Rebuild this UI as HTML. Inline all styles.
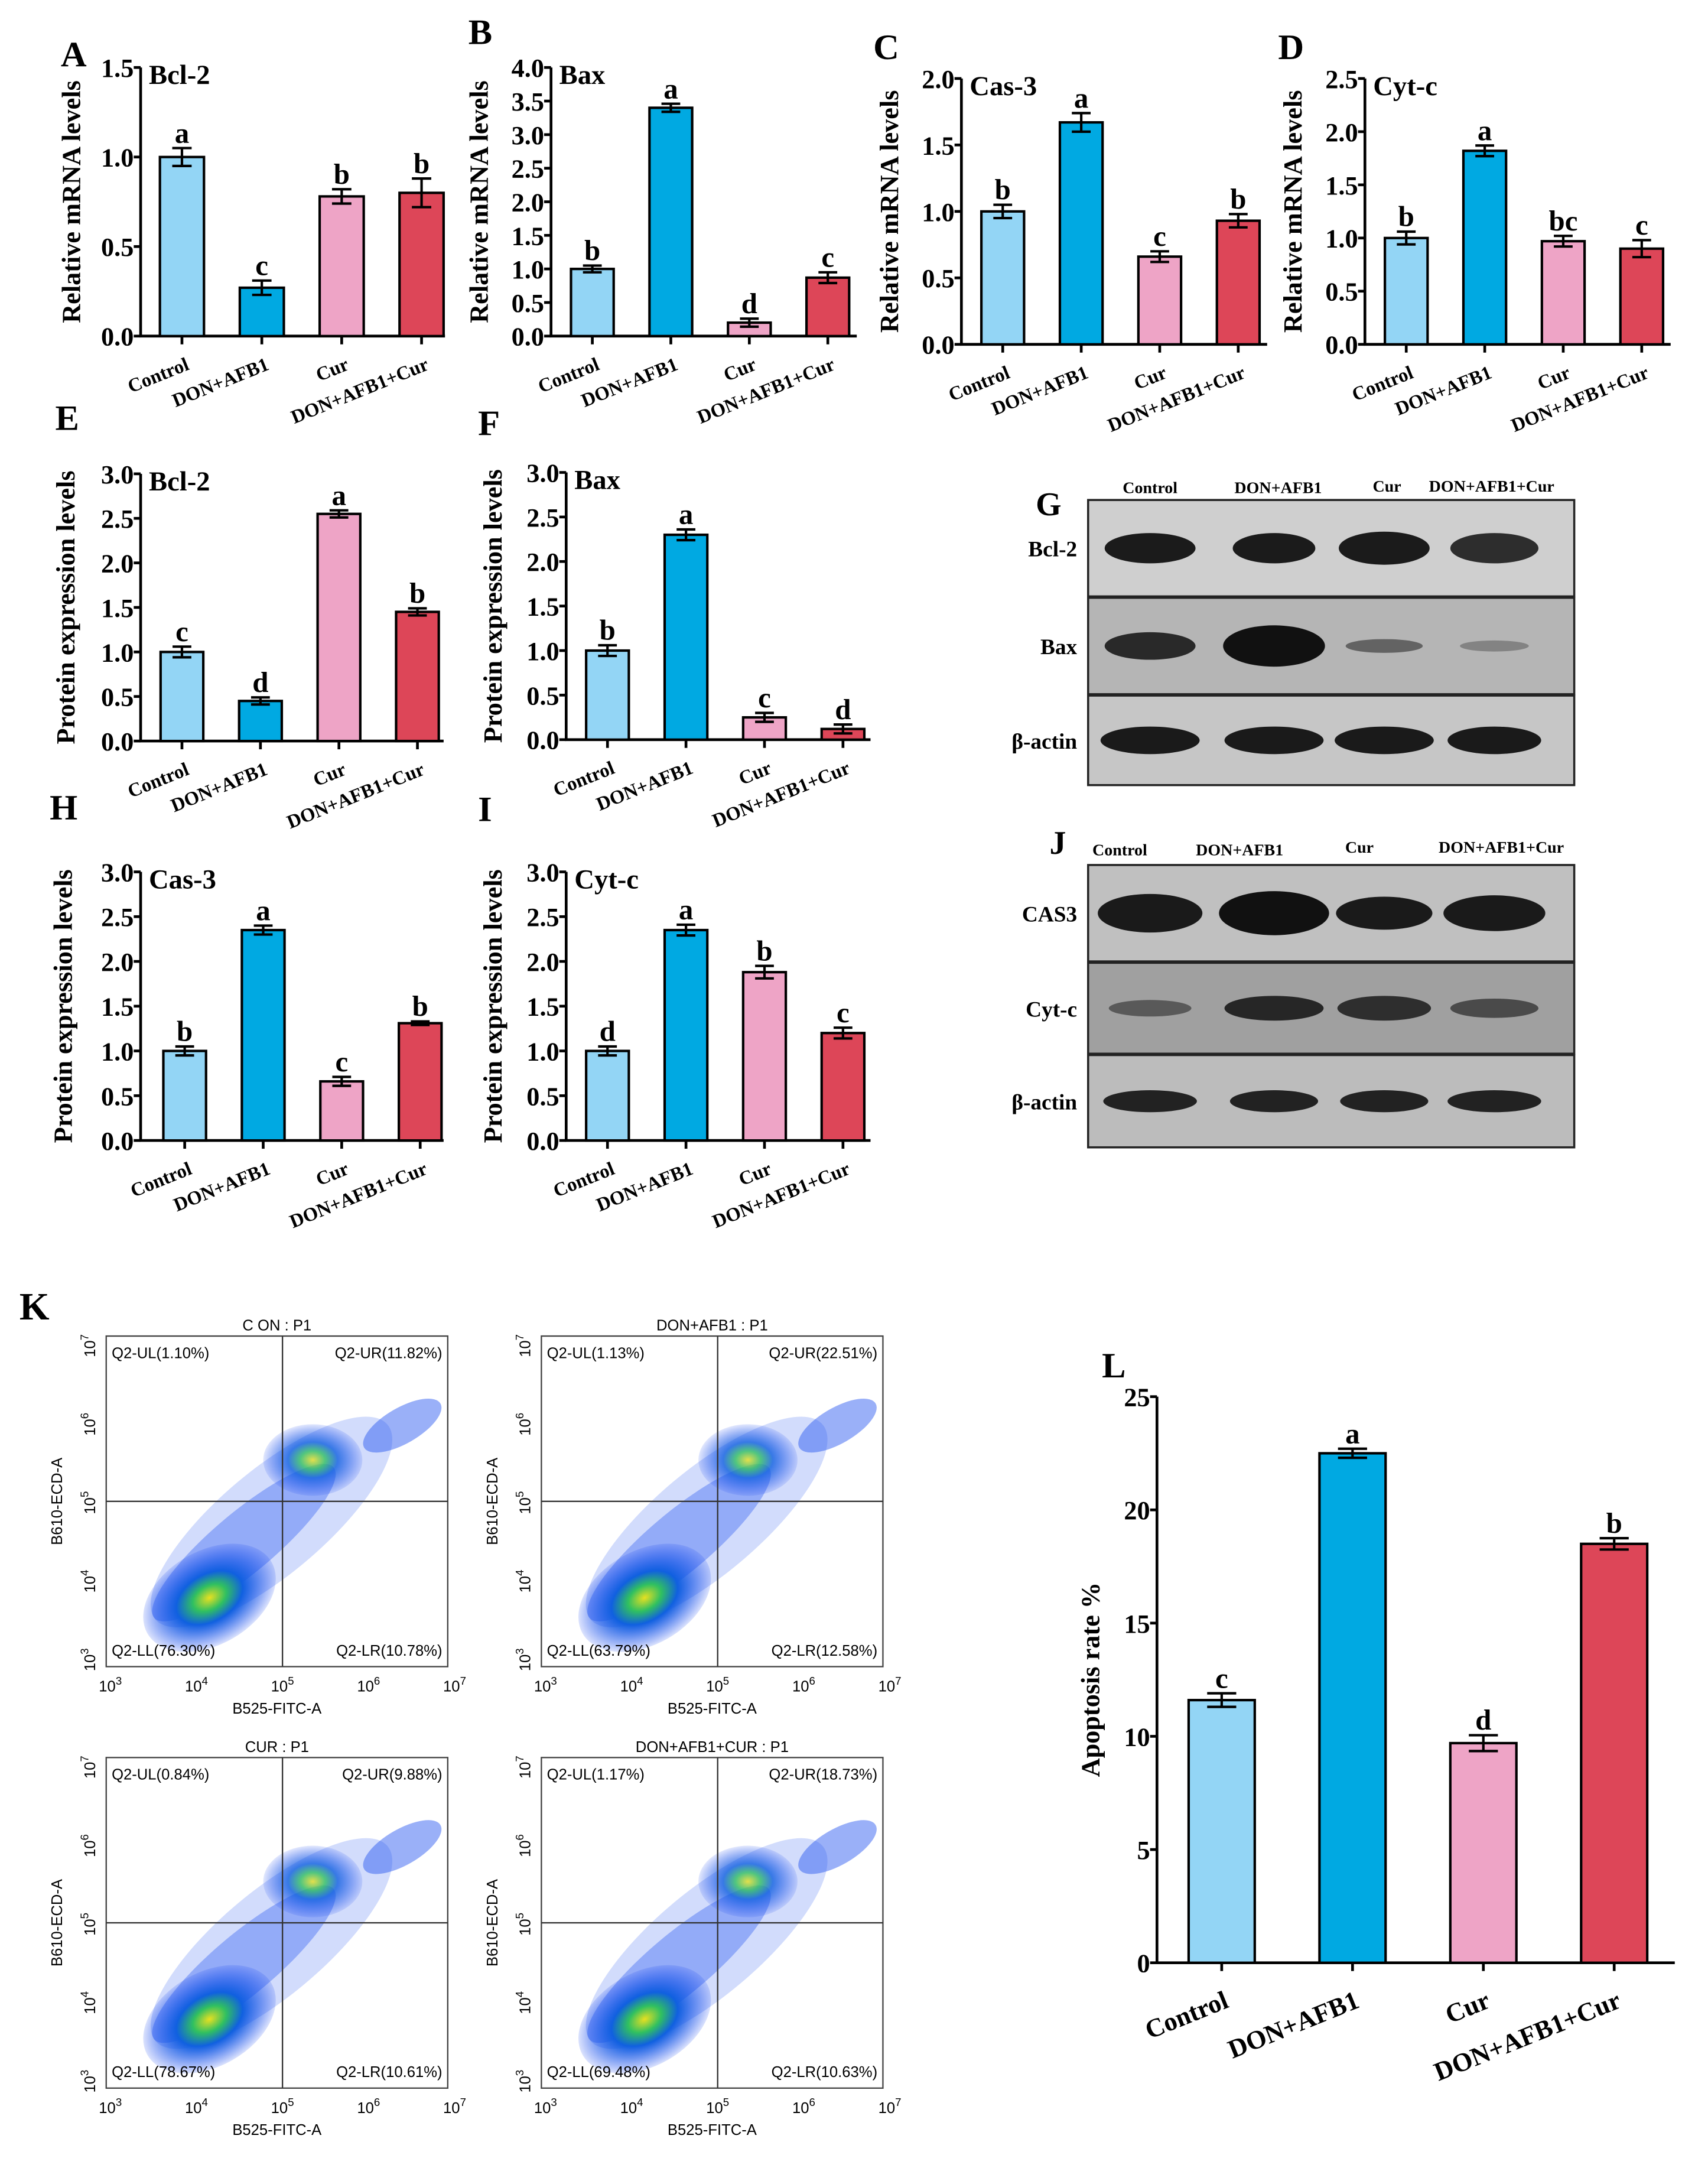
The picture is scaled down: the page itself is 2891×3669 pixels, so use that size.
<!DOCTYPE html>
<html><head><meta charset="utf-8"><style>
html,body{margin:0;padding:0;background:#fff}
svg{display:block}
text{font-family:"Liberation Serif",serif;font-weight:bold;fill:#000}
.sans{font-family:"Liberation Sans",sans-serif;font-weight:normal}
</style></head><body>
<svg id="fig" xmlns="http://www.w3.org/2000/svg" width="2891" height="3669" viewBox="0 0 1240 1574">
<rect width="1240" height="1574" fill="#fff"/>
<g id="charts"></g>
<g id="blots"></g>
<g id="flows"></g>
</svg>
<script>
const categories=["Control","DON+AFB1","Cur","DON+AFB1+Cur"];
const colors=["#93d5f5","#00a9e2","#eea4c6","#dd4658"];
const valsA=[1.0,0.27,0.78,0.80], errA=[0.05,0.04,0.04,0.08], letA=["a","c","b","b"], ticksA=[0,0.5,1.0,1.5];
const valsB=[1.0,3.40,0.20,0.87], errB=[0.05,0.06,0.06,0.08], letB=["b","a","d","c"], ticksB=[0,0.5,1,1.5,2,2.5,3,3.5,4];
const valsC=[1.0,1.67,0.66,0.93], errC=[0.05,0.07,0.04,0.05], letC=["b","a","c","b"], ticksC=[0,0.5,1.0,1.5,2.0];
const valsD=[1.0,1.82,0.97,0.90], errD=[0.06,0.05,0.05,0.08], letD=["b","a","bc","c"], ticksD=[0,0.5,1.0,1.5,2.0,2.5];
const valsE=[1.0,0.45,2.55,1.45], errE=[0.06,0.04,0.04,0.04], letE=["c","d","a","b"], ticksE=[0,0.5,1,1.5,2,2.5,3];
const valsF=[1.0,2.30,0.25,0.12], errF=[0.06,0.06,0.05,0.05], letF=["b","a","c","d"], ticksF=[0,0.5,1,1.5,2,2.5,3];
const valsH=[1.0,2.35,0.66,1.31], errH=[0.05,0.05,0.05,0.02], letH=["b","a","c","b"], ticksH=[0,0.5,1,1.5,2,2.5,3];
const valsI=[1.0,2.35,1.88,1.20], errI=[0.05,0.06,0.07,0.06], letI=["d","a","b","c"], ticksI=[0,0.5,1,1.5,2,2.5,3];
const valsL=[11.6,22.5,9.7,18.5], errL=[0.3,0.2,0.35,0.25], letL=["c","a","d","b"], ticksL=[0,5,10,15,20,25];
const flowTitles=["C ON : P1","DON+AFB1 : P1","CUR : P1","DON+AFB1+CUR : P1"];
const flowUL=["Q2-UL(1.10%)","Q2-UL(1.13%)","Q2-UL(0.84%)","Q2-UL(1.17%)"];
const flowUR=["Q2-UR(11.82%)","Q2-UR(22.51%)","Q2-UR(9.88%)","Q2-UR(18.73%)"];
const flowLL=["Q2-LL(76.30%)","Q2-LL(63.79%)","Q2-LL(78.67%)","Q2-LL(69.48%)"];
const flowLR=["Q2-LR(10.78%)","Q2-LR(12.58%)","Q2-LR(10.61%)","Q2-LR(10.63%)"];
const tickFmt=(t,dec)=>dec?t.toFixed(1):String(t);

const NS="http://www.w3.org/2000/svg";
function mk(tag,attrs,parent,txt){const e=document.createElementNS(NS,tag);for(const k in attrs)e.setAttribute(k,attrs[k]);if(txt!==undefined)e.textContent=txt;parent.appendChild(e);return e;}

function chart(p){
  const root=document.getElementById('charts');
  const g=mk('g',{},root);
  
  
  const max=p.ticks[p.ticks.length-1];
  const y=v=>p.y0-(v/max)*(p.y0-p.yTop);
  const x=i=>p.x0+p.first+i*p.step;
  const ax=mk('path',{d:`M${p.x0} ${p.yTop}V${p.y0}H${p.xEnd}`,stroke:'#000','stroke-width':2,fill:'none'},g);
  
  
  p.ticks.forEach(t=>{
    mk('line',{x1:p.x0-5,x2:p.x0,y1:y(t),y2:y(t),stroke:'#000','stroke-width':2},g);
    const tl=mk('text',{x:p.x0-5,y:y(t)+p.fs*0.36,'text-anchor':'end','font-size':p.fs},g,tickFmt(t,p.dec));
    
    
  });
  p.vals.forEach((v,i)=>{
    const b=mk('rect',{x:x(i)-p.bw/2,y:y(v),width:p.bw,height:p.y0-y(v),fill:colors[i],stroke:'#000','stroke-width':1.8},g);
    
    
    const e=p.err[i],hw=p.bw*0.22;
    mk('path',{d:`M${x(i)} ${y(v+e)}V${y(v-e)}M${x(i)-hw} ${y(v+e)}h${2*hw}M${x(i)-hw} ${y(v-e)}h${2*hw}`,stroke:'#000','stroke-width':1.8,fill:'none'},g);
    const lt=mk('text',{x:x(i),y:y(v+e)-4,'text-anchor':'middle','font-size':p.fs+2},g,p.lets[i]);
    
    
    mk('line',{x1:x(i),x2:x(i),y1:p.y0,y2:p.y0+6,stroke:'#000','stroke-width':2},g);
    const ly=p.y0+p.ld;
    const cl=mk('text',{x:x(i)+6,y:ly,'text-anchor':'end','font-size':p.cfs,transform:`rotate(-22 ${x(i)+6} ${ly})`},g,categories[i]);
    
    
  });
  const cy=(p.y0+p.yTop)/2;
  const yt=mk('text',{x:p.titleX,y:cy,'text-anchor':'middle','font-size':p.fs,transform:`rotate(-90 ${p.titleX} ${cy})`},g,p.ytitle);
  
  
  if(p.gene){const gt=mk('text',{x:p.x0+6,y:p.yTop+12,'font-size':p.fs+1},g,p.gene);
    
    }
  const pl=mk('text',{x:p.lx,y:p.ly,'font-size':26},g,p.id);
  
  
}
const R="Relative mRNA levels",P="Protein expression levels";
chart({id:'A',vals:valsA,err:errA,lets:letA,ticks:ticksA,dec:1,x0:102,xEnd:323,y0:244,yTop:49,first:30,step:58,bw:32,fs:19,cfs:14,ld:24,ytitle:R,titleX:58,gene:'Bcl-2',lx:44,ly:48});
chart({id:'B',vals:valsB,err:errB,lets:letB,ticks:ticksB,dec:1,x0:400,xEnd:622,y0:244,yTop:49,first:30,step:57,bw:31,fs:19,cfs:14,ld:24,ytitle:R,titleX:354,gene:'Bax',lx:340,ly:32});
chart({id:'C',vals:valsC,err:errC,lets:letC,ticks:ticksC,dec:1,x0:698,xEnd:920,y0:250,yTop:57,first:30,step:57,bw:31,fs:19,cfs:14,ld:24,ytitle:R,titleX:652,gene:'Cas-3',lx:634,ly:43});
chart({id:'D',vals:valsD,err:errD,lets:letD,ticks:ticksD,dec:1,x0:991,xEnd:1213,y0:250,yTop:57,first:30,step:57,bw:31,fs:19,cfs:14,ld:24,ytitle:R,titleX:945,gene:'Cyt-c',lx:928,ly:43});
chart({id:'E',vals:valsE,err:errE,lets:letE,ticks:ticksE,dec:1,x0:102,xEnd:322,y0:538,yTop:344,first:30,step:57,bw:31,fs:19,cfs:14,ld:24,ytitle:P,titleX:54,gene:'Bcl-2',lx:40,ly:312});
chart({id:'F',vals:valsF,err:errF,lets:letF,ticks:ticksF,dec:1,x0:411,xEnd:632,y0:537,yTop:343,first:30,step:57,bw:31,fs:19,cfs:14,ld:24,ytitle:P,titleX:364,gene:'Bax',lx:347,ly:316});
chart({id:'H',vals:valsH,err:errH,lets:letH,ticks:ticksH,dec:1,x0:102,xEnd:322,y0:828,yTop:633,first:32,step:57,bw:31,fs:19,cfs:14,ld:24,ytitle:P,titleX:52,gene:'Cas-3',lx:36,ly:595});
chart({id:'I',vals:valsI,err:errI,lets:letI,ticks:ticksI,dec:1,x0:411,xEnd:632,y0:828,yTop:633,first:30,step:57,bw:31,fs:19,cfs:14,ld:24,ytitle:P,titleX:364,gene:'Cyt-c',lx:347,ly:596});
chart({id:'L',vals:valsL,err:errL,lets:letL,ticks:ticksL,dec:0,x0:840,xEnd:1216,y0:1425,yTop:1014,first:47,step:95,bw:48,fs:19,cfs:19,ld:32,ytitle:'Apoptosis rate %',titleX:798,gene:'',lx:800,ly:1000});

(function(){
  const g=document.getElementById('blots');
  function blot(x,y,w,h,bg,bands,label){
    const r=mk('rect',{x:x,y:y,width:w,height:h,fill:bg,stroke:'#222','stroke-width':1.5},g);
    
    
    bands.forEach(b=>mk('ellipse',{cx:b[0],cy:y+h/2,rx:b[1],ry:b[2],fill:'#111',opacity:b[3]},g));
    const t=mk('text',{x:x-8,y:y+h/2+6,'text-anchor':'end','font-size':16},g,label);
    
    
  }
  const cx=[835,925,1005,1085];
  blot(790,363,353,70,'#cfcfcf',[[cx[0],33,11,.95],[cx[1],30,11,.95],[cx[2],33,12,.95],[cx[3],32,11,.85]],'Bcl-2');
  blot(790,434,353,70,'#b5b5b5',[[cx[0],33,10,.85],[cx[1],37,15,1],[cx[2],28,5,.5],[cx[3],25,4,.3]],'Bax');
  blot(790,505,353,65,'#c6c6c6',[[cx[0],36,10,.95],[cx[1],36,10,.95],[cx[2],36,10,.95],[cx[3],34,10,.95]],'β-actin');
  blot(790,628,353,70,'#c0c0c0',[[cx[0],38,14,.95],[cx[1],40,16,1],[cx[2],35,12,.95],[cx[3],37,13,.95]],'CAS3');
  blot(790,699,353,66,'#a0a0a0',[[cx[0],30,6,.5],[cx[1],36,9,.85],[cx[2],34,9,.8],[cx[3],32,7,.6]],'Cyt-c');
  blot(790,766,353,67,'#bcbcbc',[[cx[0],34,8,.9],[cx[1],32,8,.9],[cx[2],32,8,.9],[cx[3],34,8,.9]],'β-actin');
  [['Control',835,358],['DON+AFB1',928,358],['Cur',1007,357],['DON+AFB1+Cur',1083,357],['Control',813,621],['DON+AFB1',900,621],['Cur',987,619],['DON+AFB1+Cur',1090,619]].forEach(l=>{
    const t=mk('text',{x:l[1],y:l[2],'text-anchor':'middle','font-size':12},g,l[0]);
    
    
  });
  const G=mk('text',{x:752,y:374,'font-size':24},g,'G');
  
  
  const J=mk('text',{x:762,y:620,'font-size':24},g,'J');
  
  
})();

(function(){
  const g=document.getElementById('flows');
  const defs=mk('defs',{},g);
  const rg=mk('radialGradient',{id:'dens'},defs);
  mk('stop',{offset:'0','stop-color':'#e8e020'},rg);
  mk('stop',{offset:'0.25','stop-color':'#30c060'},rg);
  mk('stop',{offset:'0.5','stop-color':'#1060e0'},rg);
  mk('stop',{offset:'1','stop-color':'#1040f0','stop-opacity':'0.15'},rg);
  const boxes=[[77,970],[393,970],[77,1276],[393,1276]];
  const K=mk('text',{x:14,y:958,'font-size':28},g,'K');
  
  
  boxes.forEach((b,i)=>{
    const [x,y]=b,w=248,h=240;
    const p=mk('g',{},g);
    
    
    mk('rect',{x:x,y:y,width:w,height:h,fill:'#fff',stroke:'#444','stroke-width':1},p);
    mk('ellipse',{cx:x+120,cy:y+135,rx:110,ry:38,fill:'#3060f0',opacity:.22,transform:`rotate(-40 ${x+120} ${y+135})`},p);
    mk('ellipse',{cx:x+100,cy:y+150,rx:85,ry:22,fill:'#2050f0',opacity:.35,transform:`rotate(-40 ${x+100} ${y+150})`},p);
    mk('ellipse',{cx:x+75,cy:y+190,rx:52,ry:34,fill:'url(#dens)',transform:`rotate(-30 ${x+75} ${y+190})`},p);
    mk('ellipse',{cx:x+150,cy:y+90,rx:36,ry:26,fill:'url(#dens)',opacity:.8},p);
    mk('ellipse',{cx:x+215,cy:y+65,rx:32,ry:13,fill:'#2050f0',opacity:.45,transform:`rotate(-30 ${x+215} ${y+65})`},p);
    mk('line',{x1:x+128,x2:x+128,y1:y,y2:y+h,stroke:'#333','stroke-width':1},p);
    mk('line',{x1:x,x2:x+w,y1:y+120,y2:y+120,stroke:'#333','stroke-width':1},p);
    const f=11;
    [[flowTitles[i],x+w/2,y-4,'middle'],[flowUL[i],x+4,y+16,'start'],[flowUR[i],x+w-4,y+16,'end'],[flowLL[i],x+4,y+h-8,'start'],[flowLR[i],x+w-4,y+h-8,'end'],['B525-FITC-A',x+w/2,y+h+34,'middle']].forEach(t=>{
      const e=mk('text',{x:t[1],y:t[2],'text-anchor':t[3],'font-size':f,class:'sans'},p,t[0]);
      
      
    });
    const yl=mk('text',{x:x-32,y:y+h/2,'text-anchor':'middle','font-size':f,class:'sans',transform:`rotate(-90 ${x-32} ${y+h/2})`},p,'B610-ECD-A');
    
    
    [3,4,5,6,7].forEach((e,k)=>{
      const tx=x+5+k*62.5, ty=y+h-5-k*57;
      const a=mk('text',{x:tx-2,y:y+h+18,'text-anchor':'middle','font-size':f,class:'sans'},p);
      a.textContent='10';mk('tspan',{dy:-5,'font-size':8},a,String(e));
      
      
      const c=mk('text',{x:x-8,y:ty,'text-anchor':'middle','font-size':f,class:'sans',transform:`rotate(-90 ${x-8} ${ty})`},p);
      c.textContent='10';mk('tspan',{dy:-5,'font-size':8},c,String(e));
      
      
    });
  });
})();
</script>
</body></html>
